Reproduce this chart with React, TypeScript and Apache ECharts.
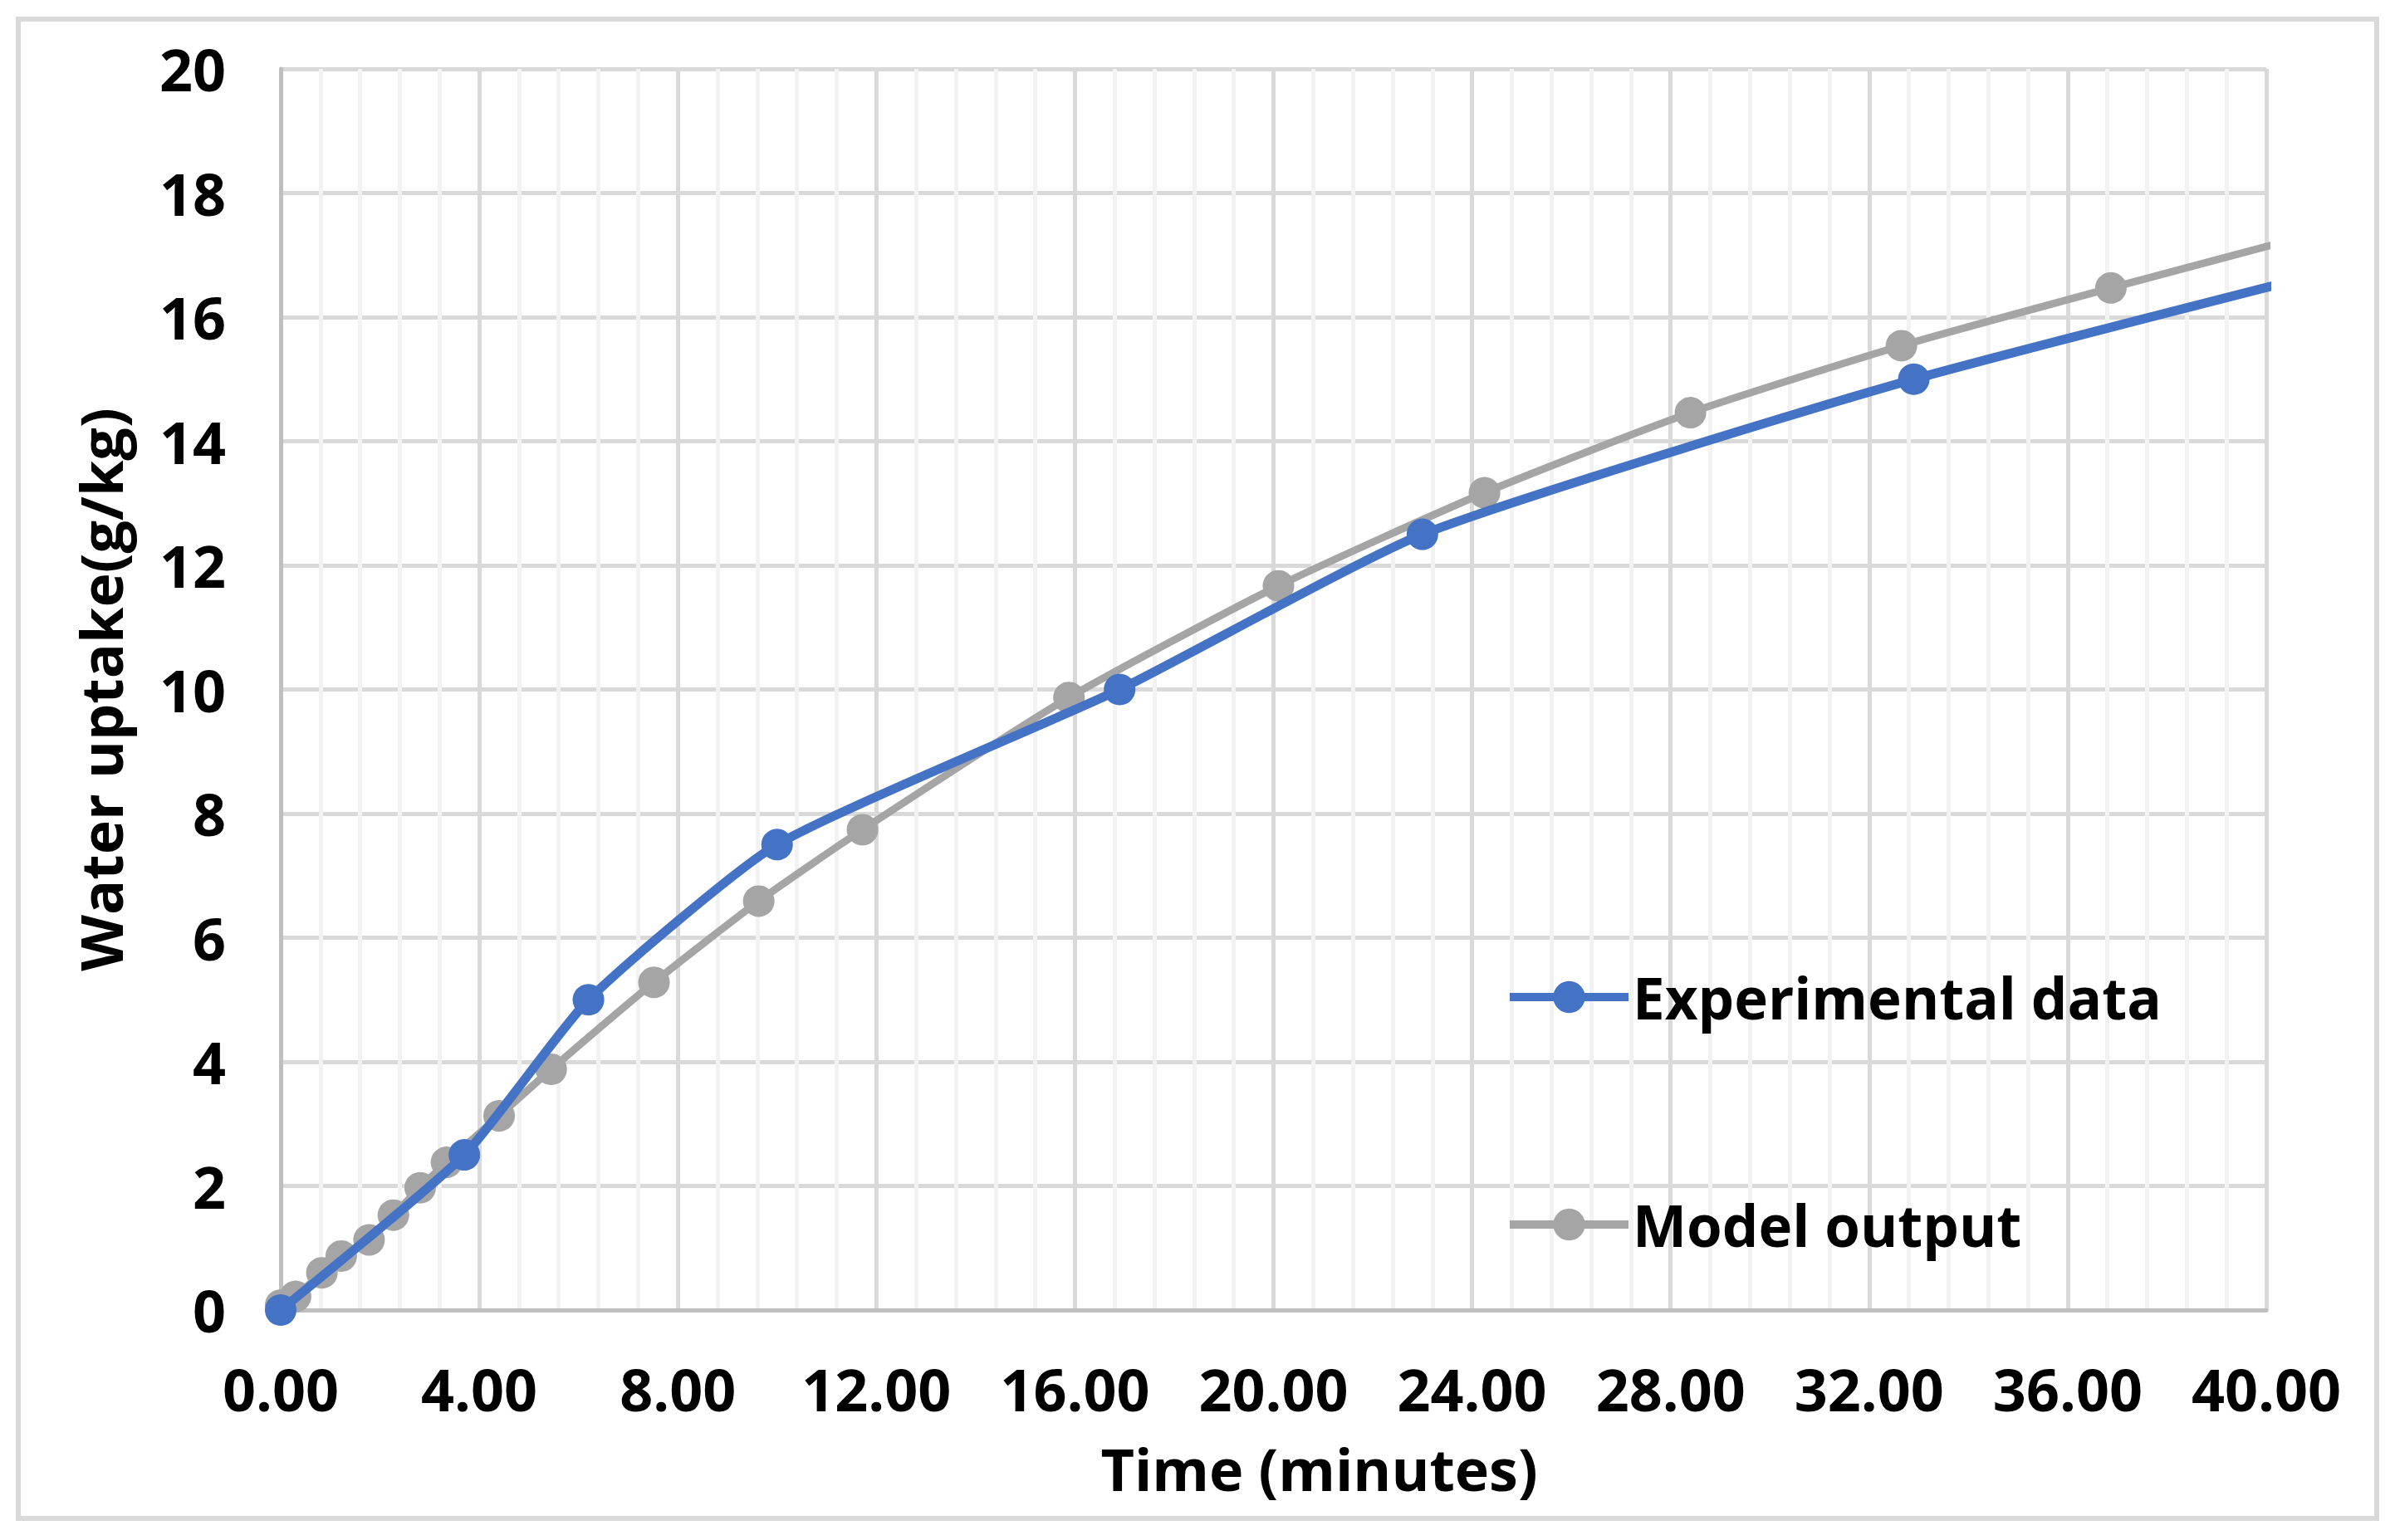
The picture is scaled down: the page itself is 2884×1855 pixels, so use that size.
import React, { useEffect, useRef } from "react";
import * as echarts from "echarts";

// Experimental data (time in minutes, water uptake g/kg); last point lies beyond the 40-min axis and is clipped
const expTime = [0, 3.7, 6.2, 10.0, 16.9, 23.0, 32.9, 49.0];
const expUptake = [0, 2.5, 5.0, 7.5, 10.0, 12.5, 15.0, 18.3];

// Model output; last point lies beyond the 40-min axis and is clipped
const modelTime = [0, 0.3, 0.83, 1.22, 1.78, 2.27, 2.81, 3.34, 4.4, 5.45, 7.52, 9.63, 11.72, 15.88, 20.1, 24.25, 28.4, 32.65, 36.87, 41.1];
const modelUptake = [0.08, 0.22, 0.6, 0.87, 1.13, 1.53, 1.97, 2.38, 3.13, 3.88, 5.28, 6.59, 7.74, 9.87, 11.67, 13.17, 14.46, 15.54, 16.47, 17.37];

const seriesNames = ["Experimental data", "Model output"];
const xTitle = "Time (minutes)";
const yTitle = "Water uptake(g/kg)";

const FONT = "'Open Sans', 'Noto Sans', 'DejaVu Sans', sans-serif";

export default function App() {
  const ref = useRef<HTMLDivElement>(null);

  useEffect(() => {
    const chart = echarts.init(ref.current!, null, { renderer: "svg" });
    const labelStyle = { color: "#000", fontSize: 70, fontWeight: "bold" as const, fontFamily: FONT };
    chart.setOption({
      animation: false,
      backgroundColor: "#ffffff",
      textStyle: { fontFamily: FONT },
      graphic: [
        {
          type: "rect",
          silent: true,
          z: -10,
          shape: { x: 22, y: 23, width: 2840, height: 1806 },
          style: { fill: "none", stroke: "#d9d9d9", lineWidth: 6 },
        },
      ],
      grid: { left: 338, top: 83, width: 2391, height: 1495, containLabel: false },
      legend: {
        orient: "vertical",
        left: 1808,
        top: 1160,
        itemWidth: 143,
        itemHeight: 48,
        itemGap: 202,
        data: seriesNames,
        lineStyle: { width: 10 },
        textStyle: { ...labelStyle, fontSize: 69, lineHeight: 72 },
      },
      xAxis: {
        type: "value",
        min: 0,
        max: 40,
        interval: 4,
        name: xTitle,
        nameLocation: "middle",
        nameGap: 156,
        nameTextStyle: { ...labelStyle, fontSize: 70, padding: [0, 0, 0, 110] },
        axisLine: { show: true, lineStyle: { color: "#bfbfbf", width: 5 } },
        axisTick: { show: false },
        axisLabel: { ...labelStyle, margin: 60, formatter: (v: number) => v.toFixed(2) },
        splitLine: { show: true, lineStyle: { color: "#d9d9d9", width: 5 } },
        minorTick: { show: false, splitNumber: 5 },
        minorSplitLine: { show: true, lineStyle: { color: "#f2f2f2", width: 5 } },
      },
      yAxis: {
        type: "value",
        min: 0,
        max: 20,
        interval: 2,
        name: yTitle,
        nameLocation: "middle",
        nameGap: 182,
        nameRotate: 90,
        nameTextStyle: { ...labelStyle, fontSize: 70 },
        axisLine: { show: true, lineStyle: { color: "#bfbfbf", width: 5 } },
        axisTick: { show: false },
        axisLabel: { ...labelStyle, margin: 66 },
        splitLine: { show: true, lineStyle: { color: "#d9d9d9", width: 5 } },
      },
      series: [
        {
          name: seriesNames[0],
          type: "line",
          data: expTime.map((t, i) => [t, expUptake[i]]),
          smooth: 0.18,
          clip: true,
          symbol: "circle",
          symbolSize: 38,
          z: 4,
          itemStyle: { color: "#4472c4" },
          lineStyle: { color: "#4472c4", width: 11 },
        },
        {
          name: seriesNames[1],
          type: "line",
          data: modelTime.map((t, i) => [t, modelUptake[i]]),
          smooth: 0.2,
          clip: true,
          symbol: "circle",
          symbolSize: 38,
          z: 3,
          itemStyle: { color: "#a5a5a5" },
          lineStyle: { color: "#a5a5a5", width: 9 },
        },
      ],
    });
    return () => chart.dispose();
  }, []);

  return (
    <div
      ref={ref}
      style={{ position: "absolute", left: 0, top: 0, width: 2884, height: 1855, background: "#fff" }}
    />
  );
}
